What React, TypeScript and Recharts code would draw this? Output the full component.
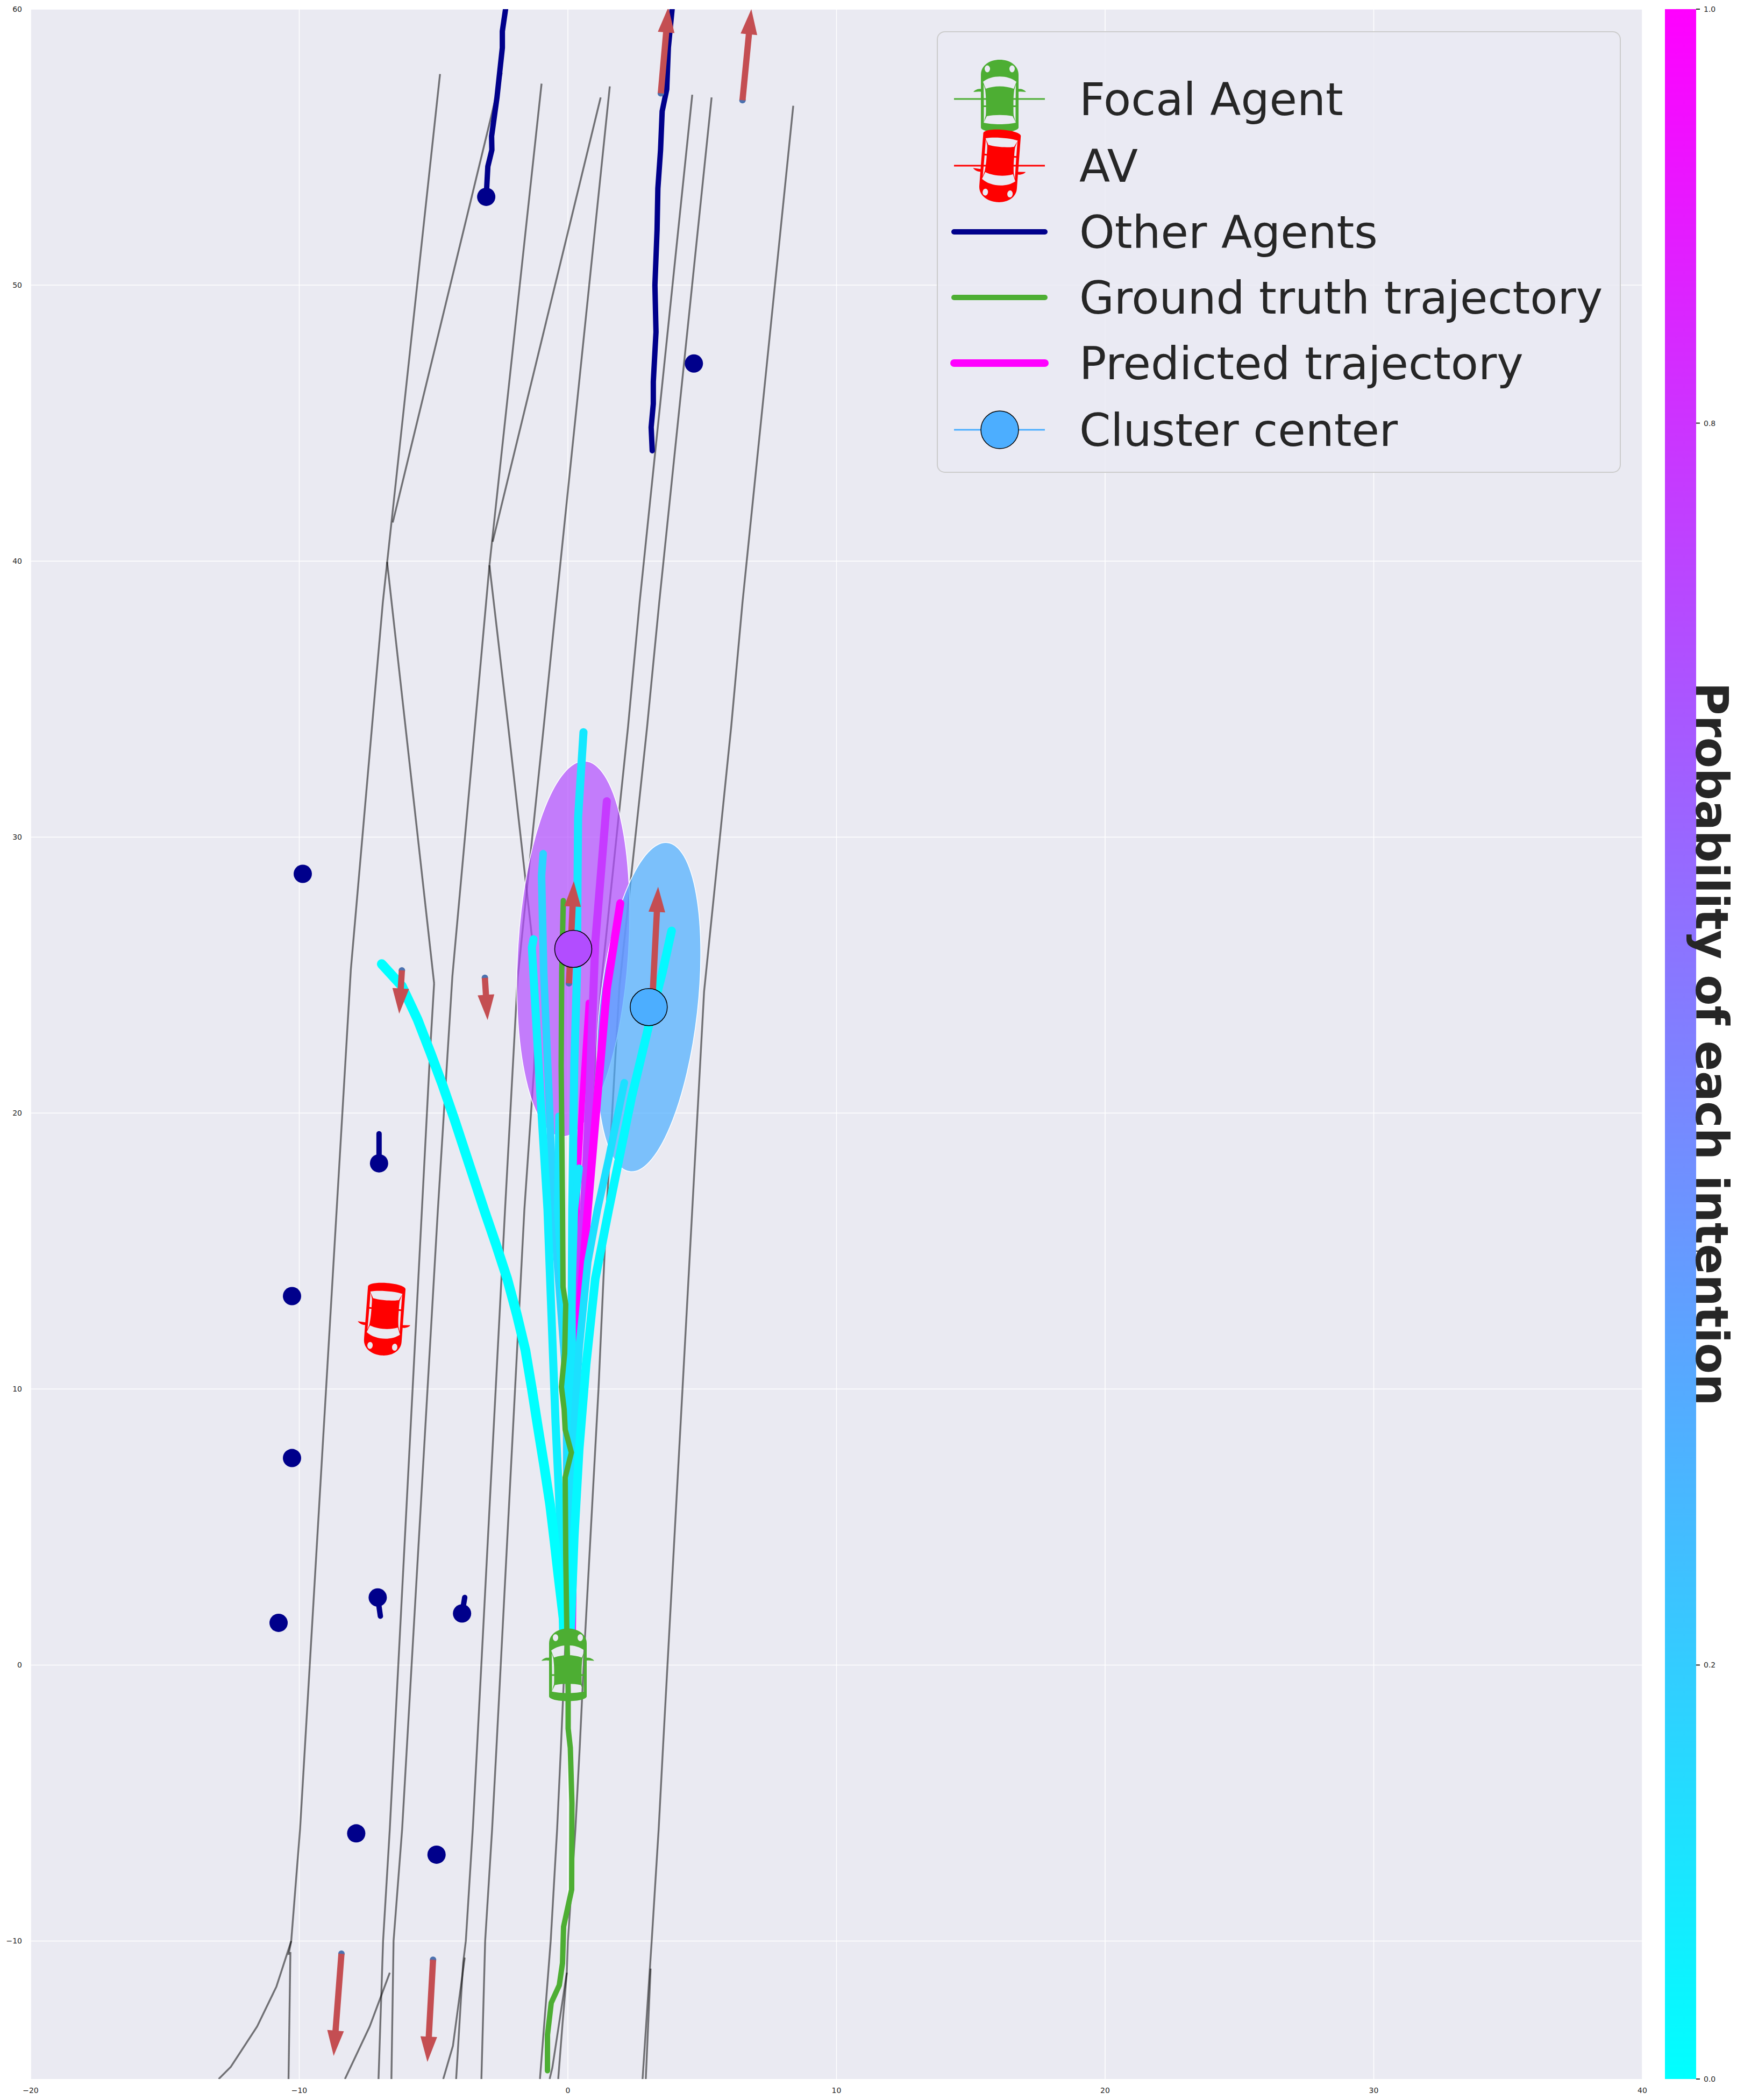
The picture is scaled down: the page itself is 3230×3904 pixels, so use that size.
import React from 'react';
import { ComposedChart, BarChart, Bar, Line, Scatter, XAxis, YAxis, CartesianGrid, Legend } from 'recharts';

const xTicks = [-20, -10, 0, 10, 20, 30, 40];
const yTicks = [-10, 0, 10, 20, 30, 40, 50, 60];
const colorbarTicks = [0, 0.2, 0.4, 0.6, 0.8, 1];

type Pt = [number, number];

// lane centre lines
const laneLines: Pt[][] = [
    [[-4.76, 57.65], [-6.89, 38.5], [-8.08, 25.2], [-9.97, -5.94], [-10.3, -10], [-10.4, -10.5]],
    [[-10.3, -10], [-10.85, -11.65], [-11.57, -13.1], [-12.55, -14.56], [-13, -15]],
    [[-10.33, -10.4], [-10.4, -15]],
    [[-2.46, 57.7], [-6.52, 41.4]],
    [[-6.73, 39.97], [-4.98, 24.7]],
    [[-4.98, 24.7], [-5.12, 22.4], [-6.63, -5.94], [-6.88, -10], [-7.05, -15]],
    [[-0.98, 57.3], [-2.92, 39.85], [-3.46, 34], [-4.3, 24.96], [-4.84, 16.5], [-6.17, -5.94], [-6.49, -10], [-6.57, -15]],
    [[-6.63, -11.15], [-7.38, -13.1], [-8.3, -15]],
    [[1.22, 56.8], [-2.8, 40.7]],
    [[-2.92, 39.85], [-2.22, 34], [-1.34, 26.4], [-1.15, 24.7], [-1.26, 21.6], [-1.62, 16.5], [-2.66, -3], [-2.82, -5.94], [-3.08, -10], [-3.22, -15]],
    [[1.56, 57.2], [-0.43, 38.5], [-0.9, 34], [-1.87, 24.9], [-2.34, 16.5], [-3.54, -5.94], [-3.8, -10], [-3.9, -10.8], [-4.16, -15]],
    [[-3.84, -10.6], [-4.28, -13.8], [-4.64, -15]],
    [[4.63, 56.9], [2.67, 38.5], [2.24, 34], [1.24, 24.7], [0.6, 16.5], [-0.26, -3], [-0.4, -5.94], [-0.64, -10], [-0.72, -11], [-1.04, -15]],
    [[5.35, 56.8], [3.4, 38.5], [2.95, 34], [1.92, 24.6], [1.44, 16.5], [1.14, 10], [0.64, 1.06], [0.44, -3], [0.28, -5.94], [0, -10], [-0.04, -11.15], [-0.58, -14.6], [-0.68, -15]],
    [[-0.04, -11.15], [-0.2, -13], [-0.36, -15]],
    [[8.39, 56.5], [6.5, 38.5], [6.08, 34], [5.07, 24.4], [4.63, 16.5], [3.54, -3], [3.38, -5.94], [3.12, -10], [2.78, -15]],
    [[3.08, -11], [2.9, -15]],
];

const otherAgentTracks: Pt[][] = [
    [[-3.04, 53.2], [-2.98, 54.3], [-2.83, 54.9], [-2.84, 55.4], [-2.64, 56.8], [-2.44, 58.6], [-2.44, 59.2], [-2.32, 60]],
    [[3.14, 44], [3.1, 44.85], [3.18, 45.7], [3.18, 46.5], [3.28, 48.3], [3.24, 50], [3.32, 52], [3.35, 53.5], [3.45, 54.9], [3.51, 56.3], [3.68, 57.1], [3.74, 58.6], [3.88, 60]],
    [[-7.03, 18.18], [-7.03, 19.25]],
    [[-7.08, 2.45], [-6.98, 1.77]],
    [[-3.94, 1.87], [-3.84, 2.45]],
];

const otherAgentDots = [
    { x: -3.04, y: 53.2 }, { x: 4.69, y: 47.16 }, { x: -9.87, y: 28.67 }, { x: -7.03, y: 18.18 },
    { x: -10.27, y: 13.37 }, { x: -10.27, y: 7.5 }, { x: -7.08, y: 2.45 }, { x: -10.77, y: 1.53 },
    { x: -3.94, y: 1.87 }, { x: -7.88, y: -6.1 }, { x: -4.89, y: -6.87 },
];

const groundTruth: Pt[] = [
    [-0.17, 27.7], [-0.23, 25.1], [-0.25, 21.7], [-0.2, 16.5], [-0.18, 13.7], [-0.08, 13.07], [-0.12, 11.3], [-0.24, 10.08],
    [-0.14, 9.27], [-0.1, 8.53], [0.13, 7.7], [-0.1, 6.8], [-0.08, 4.05], [-0.04, 1.3], [0.01, -0.9], [0.01, -2.3], [0.09, -3],
    [0.15, -5], [0.14, -8.14], [-0.16, -9.48], [-0.2, -10.8], [-0.32, -11.6], [-0.62, -12.24], [-0.76, -13.4], [-0.76, -14.7],
];

// predicted modes, drawn back to front
const predictedTracks: Pt[][] = [
    [[0.77, 24], [0.52, 20.3], [0.36, 17.5], [0.2, 10], [0.1, 1.2]],
    [[1.45, 31.3], [1.02, 26.2], [0.8, 20.6], [0.6, 16.5], [0.42, 15.2], [0.28, 12.8], [0.24, 10.5], [0.1, 1.2]],
    [[1.95, 27.6], [1.45, 24.5], [1.1, 20.6], [0.74, 16.5], [0.48, 13.4], [0.28, 10.9], [0.15, 1.2]],
    [[-0.92, 29.4], [-0.98, 28.6], [-0.9, 25.1], [-0.7, 20.6], [-0.54, 16.5], [-0.06, 10.3], [0, 1.2]],
    [[-0.35, 19.9], [-0.4, 16.5], [0, 10], [0, 1.2]],
    [[-1.28, 26.3], [-1.34, 26], [-1.02, 20.6], [-0.76, 16.5], [-0.46, 8.8], [-0.26, 4.7], [-0.18, 1.3]],
    [[0.58, 33.8], [0.38, 30.7], [0.36, 28.4], [0.34, 25.1], [0.24, 21.8], [0.16, 16.5], [0.14, 12.8], [0.18, 7.8], [0.1, 1.2]],
    [[0.42, 18], [0.24, 16.5], [0.1, 12], [0.1, 1.2]],
    [[2.1, 21.1], [1.52, 18.35], [1.1, 16.5], [0.74, 14.6], [0.42, 11.5], [0.18, 7.8], [0.1, 1.2]],
    [[3.86, 26.6], [3.52, 25.1], [3.02, 23.2], [2.38, 20.6], [1.52, 16.5], [1.02, 14], [0.68, 10.9], [0.42, 7.8], [0.24, 4.7], [0.1, 1.2]],
    [[-6.93, 25.4], [-6.18, 24.6], [-5.6, 23.4], [-5.12, 22.2], [-4.66, 21], [-4.2, 19.7], [-3.66, 18.1], [-3.12, 16.5], [-2.68, 15.25], [-2.26, 14], [-1.9, 12.7], [-1.58, 11.4], [-1.34, 10], [-1.12, 8.64], [-0.88, 7.2], [-0.66, 5.8], [-0.5, 4.5], [-0.36, 3.3], [-0.1, 1.2]],
];
const predictedColors = ['#ff00ff', '#c63aff', '#ff00ff', '#2bd4ff', '#18e5ff', '#0ef0ff', '#14e8ff', '#14e8ff', '#1ce0ff', '#05f8ff', '#00ffff'];
const predictedWidths = [11, 15, 15, 14, 12, 15, 15, 14, 14, 16, 18];

// semi axes in data units, tilt in degrees clockwise from vertical
const clusterEllipses = [
    { x: 0.2, y: 25.95, major: 6.82, minor: 2.06, tilt: 3.6, color: '#b24dff' },
    { x: 3.01, y: 23.84, major: 6.0, minor: 1.82, tilt: 6.5, color: '#4caeff' },
];
const clusterCenters = [
    { x: 0.2, y: 25.95, color: '#b24dff' },
    { x: 3.01, y: 23.84, color: '#4caeff' },
];

const heading = [
    { x: 3.46, y: 56.95, dx: 0.28, dy: 3.12 },
    { x: 6.5, y: 56.7, dx: 0.33, dy: 3.3 },
    { x: 0.04, y: 24.7, dx: 0.18, dy: 3.7 },
    { x: 3.13, y: 23.8, dx: 0.23, dy: 4.4 },
    { x: -3.09, y: 24.9, dx: 0.1, dy: -1.53 },
    { x: -6.18, y: 25.17, dx: -0.1, dy: -1.57 },
    { x: -8.43, y: -10.46, dx: -0.29, dy: -3.7 },
    { x: -5.02, y: -10.68, dx: -0.21, dy: -3.7 },
];

const focalCar = [{ x: 0, y: 0 }];
const avCar = [{ x: -6.83, y: 12.54 }];

const legendRows = ['Focal Agent', 'AV', 'Other Agents', 'Ground truth trajectory', 'Predicted trajectory', 'Cluster center'];

const W = 3230;
const H = 3904;
const PLOT_W = 2997;
const PLOT_H = 3848;
const PX_X = PLOT_W / 60;
const PX_Y = PLOT_H / 75;
const FONT = '"DejaVu Sans", sans-serif';
const INK = '#262626';

const toRows = (pts: Pt[]) => pts.map(([x, y]) => ({ x, y }));
const minusSign = (v: number) => String(v).replace('-', '\u2212');

const carPath =
    'M-35,-40 C-35,-58 -18,-68 0,-68 C18,-68 35,-58 35,-40 L35,58 C35,63 20,67 0,67 C-20,67 -35,63 -35,58 Z ' +
    'M-28,-51 a5,6.5 0 1 0 10,0 a5,6.5 0 1 0 -10,0 Z M18,-51 a5,6.5 0 1 0 10,0 a5,6.5 0 1 0 -10,0 Z ' +
    'M-26,-14 C-10,-20 10,-20 26,-14 L31,-27 C15,-40 -15,-40 -31,-27 Z ' +
    'M-24,37 C-10,34 10,34 24,37 L30,49 C15,53 -15,53 -30,49 Z ' +
    'M-30,-22 L-27,-12 C-25.5,0 -25.5,8 -25.5,17 L-29.5,17 Z M-29.5,20 L-25.5,20 C-25.5,28 -25.5,32 -26,36 L-29.5,48 Z ' +
    'M30,-22 L27,-12 C25.5,0 25.5,8 25.5,17 L29.5,17 Z M29.5,20 L25.5,20 C25.5,28 25.5,32 26,36 L29.5,48 Z ' +
    'M-35,-14 C-42,-14 -47,-11 -49,-8 L-35,-9 Z M35,-14 C42,-14 47,-11 49,-8 L35,-9 Z';

const Car = ({ cx, cy, color, rotate = 0 }: { cx: number; cy: number; color: string; rotate?: number }) => (
    <path d={carPath} fill={color} fillRule="evenodd" transform={`translate(${cx},${cy}) rotate(${rotate})`} />
);

const EllipseShape = (props: any) => {
    const { cx, cy, payload } = props;
    return (
        <ellipse
            cx={cx}
            cy={cy}
            rx={payload.minor * PX_X}
            ry={payload.major * PX_Y}
            transform={`rotate(${payload.tilt} ${cx} ${cy})`}
            fill={payload.color}
            fillOpacity={0.7}
            stroke="#ffffff"
            strokeWidth={1.5}
        />
    );
};

const ArrowShape = (props: any) => {
    const { cx, cy, payload } = props;
    const ex = payload.dx * PX_X;
    const ey = -payload.dy * PX_Y;
    const len = Math.hypot(ex, ey);
    const ux = ex / len;
    const uy = ey / len;
    const bx = cx + ex - ux * 47;
    const by = cy + ey - uy * 47;
    const pts = [
        [cx - uy * 5.8, cy + ux * 5.8],
        [bx - uy * 5.8, by + ux * 5.8],
        [bx - uy * 15.5, by + ux * 15.5],
        [cx + ex, cy + ey],
        [bx + uy * 15.5, by - ux * 15.5],
        [bx + uy * 5.8, by - ux * 5.8],
        [cx + uy * 5.8, cy - ux * 5.8],
    ];
    return (
        <g>
            <circle cx={cx} cy={cy} r={6} fill="#4c72b0" />
            <polygon points={pts.map((p) => p.join(',')).join(' ')} fill="#c44e52" />
        </g>
    );
};

const LegendBox = () => {
    const rowY = [126, 250, 373, 495, 617, 741];
    return (
        <svg width={1272} height={821} style={{ display: 'block' }}>
            <rect x={1} y={1} width={1270} height={819} rx={14} fill="#eaeaf2" fillOpacity={0.8} stroke="#cccccc" strokeWidth={2} />
            <line x1={32} x2={201} y1={rowY[0]} y2={rowY[0]} stroke="#4dae33" strokeWidth={3} />
            <Car cx={117} cy={rowY[0] - 5} color="#4dae33" />
            <line x1={32} x2={201} y1={rowY[1]} y2={rowY[1]} stroke="#ff0000" strokeWidth={3} />
            <Car cx={117} cy={rowY[1]} color="#ff0000" rotate={184.3} />
            <line x1={32} x2={201} y1={rowY[2]} y2={rowY[2]} stroke="#00008b" strokeWidth={10} strokeLinecap="round" />
            <line x1={32} x2={201} y1={rowY[3]} y2={rowY[3]} stroke="#4dae33" strokeWidth={10} strokeLinecap="round" />
            <line x1={32} x2={201} y1={rowY[4]} y2={rowY[4]} stroke="#ff00ff" strokeWidth={14} strokeLinecap="round" />
            <line x1={32} x2={201} y1={rowY[5]} y2={rowY[5]} stroke="#4caeff" strokeWidth={3} />
            <circle cx={117} cy={rowY[5]} r={35} fill="#4caeff" stroke="#000000" strokeWidth={1.5} />
            {legendRows.map((label, i) => (
                <text key={label} x={265} y={rowY[i] + 30} fontFamily={FONT} fontSize={83.6} fill={INK}>
                    {label}
                </text>
            ))}
        </svg>
    );
};

const App = () => (
    <div style={{ position: 'absolute', left: 0, top: 0, width: W, height: H, background: '#ffffff' }}>
        <div style={{ position: 'absolute', left: 0, top: 0 }}>
            <ComposedChart width={W} height={H} margin={{ top: 17, right: 176, bottom: 0, left: 0 }}>
                <CartesianGrid fill="#eaeaf2" stroke="#ffffff" strokeWidth={1.5} verticalValues={xTicks} horizontalValues={yTicks} />
                <XAxis
                    type="number"
                    dataKey="x"
                    domain={[-20, 40]}
                    ticks={xTicks}
                    height={39}
                    tickLine={false}
                    axisLine={false}
                    tickMargin={10}
                    tickFormatter={minusSign}
                    tick={{ fill: INK, fontSize: 14, fontFamily: FONT }}
                    allowDataOverflow
                />
                <YAxis
                    type="number"
                    dataKey="y"
                    domain={[-15, 60]}
                    ticks={yTicks}
                    width={57}
                    tickLine={false}
                    axisLine={false}
                    tickMargin={10}
                    tickFormatter={minusSign}
                    tick={{ fill: INK, fontSize: 14, fontFamily: FONT }}
                    allowDataOverflow
                />
                {laneLines.map((lane, i) => (
                    <Line
                        key={`lane-${i}`}
                        data={toRows(lane)}
                        dataKey="y"
                        stroke="#000000"
                        strokeOpacity={0.52}
                        strokeWidth={3.4}
                        dot={false}
                        isAnimationActive={false}
                        zIndex={300}
                    />
                ))}
                <Scatter data={clusterEllipses} shape={EllipseShape} isAnimationActive={false} zIndex={320} />
                {otherAgentTracks.map((track, i) => (
                    <Line
                        key={`agent-${i}`}
                        data={toRows(track)}
                        dataKey="y"
                        stroke="#00008b"
                        strokeWidth={10}
                        strokeLinecap="round"
                        strokeLinejoin="miter"
                        dot={false}
                        isAnimationActive={false}
                        zIndex={340}
                    />
                ))}
                <Scatter
                    data={otherAgentDots}
                    shape={(p: any) => <circle cx={p.cx} cy={p.cy} r={17} fill="#00008b" />}
                    isAnimationActive={false}
                    zIndex={350}
                />
                {predictedTracks.map((track, i) => (
                    <Line
                        key={`pred-${i}`}
                        data={toRows(track)}
                        dataKey="y"
                        stroke={predictedColors[i]}
                        strokeWidth={predictedWidths[i]}
                        strokeLinecap="round"
                        strokeLinejoin="miter"
                        dot={false}
                        isAnimationActive={false}
                        zIndex={400}
                    />
                ))}
                <Line
                    data={toRows(groundTruth)}
                    dataKey="y"
                    stroke="#4dae33"
                    strokeWidth={10}
                    strokeLinecap="round"
                    strokeLinejoin="miter"
                    dot={false}
                    isAnimationActive={false}
                    zIndex={450}
                />
                <Scatter data={heading} shape={ArrowShape} isAnimationActive={false} zIndex={500} />
                <Scatter
                    data={focalCar}
                    shape={(p: any) => <Car cx={p.cx} cy={p.cy} color="#4dae33" />}
                    isAnimationActive={false}
                    zIndex={550}
                />
                <Scatter
                    data={avCar}
                    shape={(p: any) => <Car cx={p.cx} cy={p.cy} color="#ff0000" rotate={184.3} />}
                    isAnimationActive={false}
                    zIndex={550}
                />
                <Scatter
                    data={clusterCenters}
                    shape={(p: any) => (
                        <circle cx={p.cx} cy={p.cy} r={34.5} fill={p.payload.color} stroke="#000000" strokeWidth={1.5} />
                    )}
                    isAnimationActive={false}
                    zIndex={600}
                />
                <Legend
                    layout="vertical"
                    align="center"
                    verticalAlign="middle"
                    content={() => <LegendBox />}
                    wrapperStyle={{ position: 'absolute', left: 1742, top: 58, width: 1272, height: 821 }}
                />
            </ComposedChart>
        </div>
        <div style={{ position: 'absolute', left: 3096, top: 0 }}>
            <BarChart
                width={134}
                height={H}
                data={[{ name: 'p', value: 1 }]}
                margin={{ top: 17, right: 0, bottom: 39, left: 0 }}
                barCategoryGap={0}
            >
                <defs>
                    <linearGradient id="cool" x1="0" y1="0" x2="0" y2="1">
                        <stop offset="0" stopColor="#ff00ff" />
                        <stop offset="1" stopColor="#00ffff" />
                    </linearGradient>
                </defs>
                <XAxis dataKey="name" hide />
                <YAxis
                    orientation="right"
                    type="number"
                    domain={[0, 1]}
                    ticks={colorbarTicks}
                    width={76}
                    axisLine={false}
                    tickSize={7}
                    tickMargin={7}
                    tickLine={{ stroke: INK, strokeWidth: 2 }}
                    tickFormatter={(v: number) => v.toFixed(1)}
                    tick={{ fill: INK, fontSize: 14, fontFamily: FONT }}
                    label={{
                        value: 'Probability of each intention',
                        angle: 90,
                        position: 'center',
                        dx: -8,
                        fill: INK,
                        fontSize: 83.3,
                        fontWeight: 700,
                        fontFamily: FONT,
                    }}
                />
                <Bar dataKey="value" fill="url(#cool)" isAnimationActive={false} />
            </BarChart>
        </div>
    </div>
);

export default App;
